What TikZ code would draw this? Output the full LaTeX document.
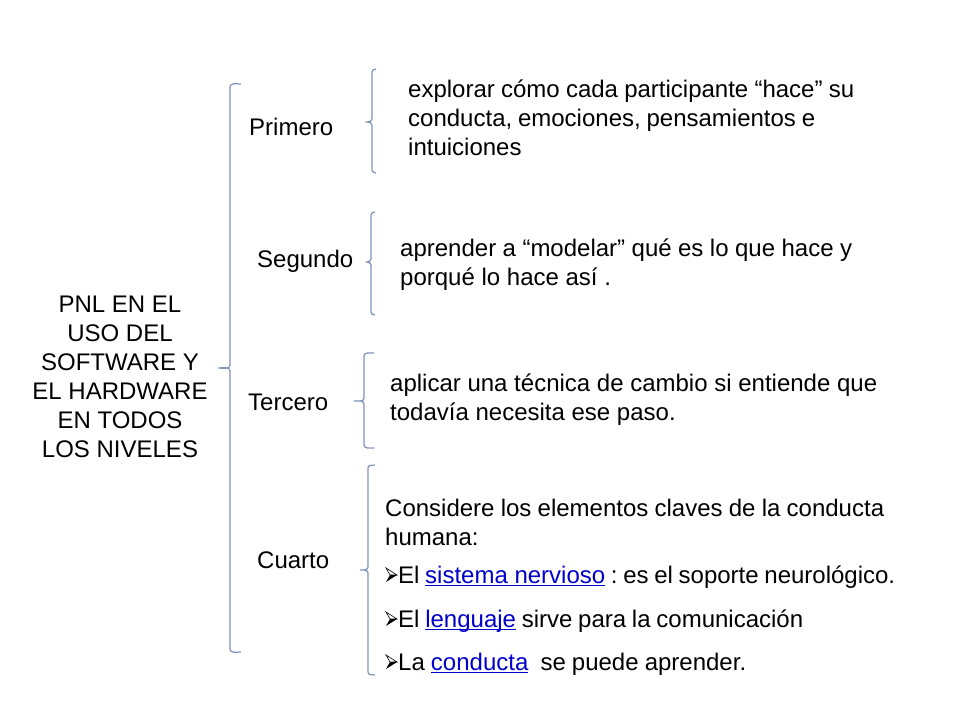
\documentclass[tikz,border=0pt]{standalone}
\usepackage{fontspec}
\setmainfont{Liberation Sans}
\frenchspacing
\definecolor{brkcol}{RGB}{125,148,185}
\definecolor{lnkcol}{RGB}{0,0,204}
\newcommand\lnktxt[1]{\setbox0\hbox{#1}\rlap{\color{lnkcol}\rule[-3pt]{\wd0}{1.3pt}}{\color{lnkcol}\box0}}
\newcommand\jl[2]{\makebox[#1pt][s]{#2}}
\tikzset{
  txt/.style={inner sep=0pt, anchor=base west, font=\fontsize{24}{29}\selectfont},
  brkline/.style={draw=brkcol, line width=1.2pt}
}
% bracket: x, top, mid, bottom, hook, tip
\newcommand\brk[6]{%
  \draw[brkline] (#1+#5,#2) to[out=180,in=90] (#1,#2+3) -- (#1,#3-3)
    to[out=-90,in=0] (#1-#6,#3) to[out=0,in=90] (#1,#3+3) -- (#1,#4-3)
    to[out=-90,in=180] (#1+#5,#4);}
% 3D arrowhead bullet at named coordinate (baseline west point)
\newcommand\bulletat[1]{%
  \draw[black, line width=0.6pt, fill=white] ([shift={(1,-15)}]#1) -- ([shift={(12,-8)}]#1) -- ([shift={(5,-8)}]#1) -- cycle;
  \fill[black] ([shift={(5,-8)}]#1) -- ([shift={(12,-8)}]#1) -- ([shift={(1,-1)}]#1) -- cycle;}
\begin{document}
\begin{tikzpicture}[x=1pt,y=-1pt]
\useasboundingbox (0,0) rectangle (960,720);
\fill[white] (0,0) rectangle (960,720);

% root
\node[inner sep=0pt, align=center, font=\fontsize{24}{29}\selectfont] (root) at (120,377)
  {PNL EN EL\\USO DEL\\SOFTWARE Y\\EL HARDWARE\\EN TODOS\\LOS NIVELES};

% brackets
\brk{230}{84}{368}{652}{11}{12}
\brk{372}{69}{122}{173}{4}{5}
\brk{371}{212}{262}{315}{4}{4}
\brk{364}{353}{401}{448}{10}{10}
\brk{368}{465}{570}{675}{7}{8}

% labels
\node[txt] (primero) at (249,135) {Primero};
\node[txt] (segundo) at (257,267) {Segundo};
\node[txt] (tercero) at (248,410) {Tercero};
\node[txt] (cuarto) at (257,568) {Cuarto};

% primero text
\node[txt] (p1a) at (408,97) {\jl{446}{explorar cómo cada participante “hace” su}};
\node[txt] (p1b) at (408,126) {\jl{407}{conducta, emociones, pensamientos e}};
\node[txt] (p1c) at (408,155) {intuiciones};

% segundo text
\node[txt] (p2a) at (400,256) {\jl{452}{aprender a “modelar” qué es lo que hace y}};
\node[txt] (p2b) at (400,285) {porqué lo hace así .};

% tercero text
\node[txt] (p3a) at (390,391) {\jl{487}{aplicar una técnica de cambio si entiende que}};
\node[txt] (p3b) at (390,420) {todavía necesita ese paso.};

% cuarto text
\node[txt] (p4a) at (385,516) {\jl{499}{Considere los elementos claves de la conducta}};
\node[txt] (p4b) at (385,545) {humana:};

\coordinate (b1) at (385,583);
\coordinate (b2) at (385,627);
\coordinate (b3) at (385,670);
\bulletat{b1}
\bulletat{b2}
\bulletat{b3}
\node[txt] (p4c) at (398,583) {\jl{497}{El \lnktxt{sistema nervioso} : es el soporte neurológico.}};
\node[txt] (p4d) at (398,627) {\jl{405}{El \lnktxt{lenguaje} sirve para la comunicación}};
\node[txt] (p4e) at (398,670) {\jl{348}{La \lnktxt{conducta}\ \ se puede aprender.}};
\end{tikzpicture}
\end{document}
